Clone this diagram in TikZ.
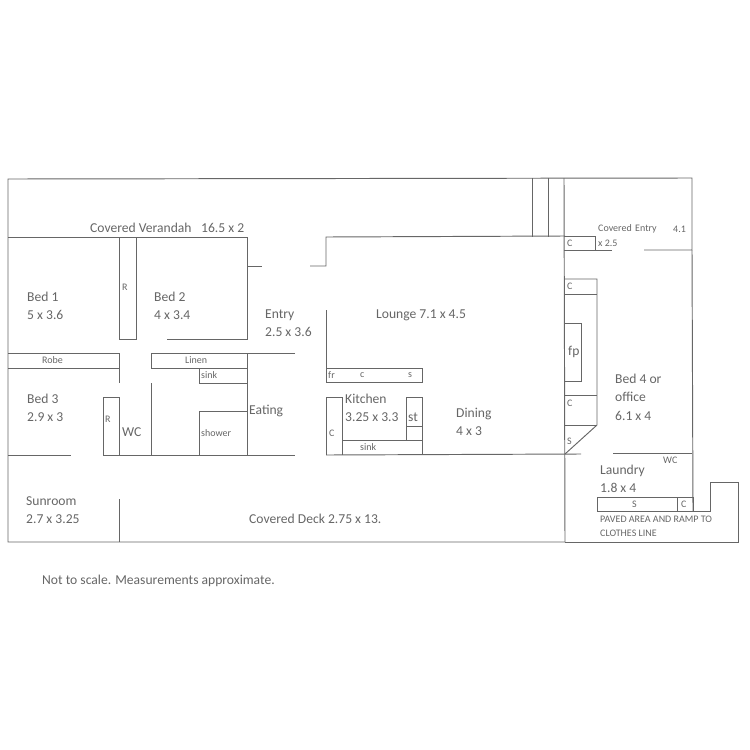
\documentclass[tikz,border=0pt]{standalone}
\usepackage{fontspec}
\setmainfont{Carlito}
\definecolor{planink}{HTML}{666666}
\tikzset{
    wall/.style={draw=planink, line width=0.95pt, line join=miter},
    room/.style={anchor=west, inner sep=0pt, align=left, text=planink, font=\fontsize{13.6}{18.5}\selectfont},
    fitting/.style={anchor=west, inner sep=0pt, align=left, text=planink, font=\fontsize{10}{14}\selectfont}
}
\begin{document}
\begin{tikzpicture}[x=1pt, y=-1pt]
        \useasboundingbox (0,0) rectangle (750,750);

        \draw[wall] (565,542) -- (8,542) -- (8,179) -- (692,178) -- (692,250) -- (644,250);
        \draw[wall] (565,542) -- (738,542) -- (738,482) -- (710,482) -- (710,511) -- (693,511);
        \draw[wall] (692,250) -- (693,511);

        \draw[wall] (8,237) -- (247,237) -- (247,339) -- (167,339);
        \draw[wall] (247,266) -- (262,266);
        \draw[wall] (310,266) -- (326,266) -- (326,237) -- (565,236);
        \draw[wall] (532,178) -- (532,237);
        \draw[wall] (548,178) -- (548,237);
        \draw[wall] (564,178) -- (565,542);
        \draw[wall] (119,237) -- (119,339) -- (136,339) -- (136,237);

        \draw[wall] (564,236) -- (595,236) -- (595,250) -- (564,250);
        \draw[wall] (595,250) -- (612,250);

        \draw[wall] (564,279) -- (597,279) -- (597,425) -- (565,454);
        \draw[wall] (564,294) -- (597,294);
        \draw[wall] (565,323) -- (581,323) -- (581,381) -- (565,381);
        \draw[wall] (565,395) -- (597,395);
        \draw[wall] (565,425) -- (597,425);
        \draw[wall] (613,453) -- (692,453);

        \draw[wall] (8,353) -- (119,353) -- (119,383);
        \draw[wall] (8,368) -- (119,368);
        \draw[wall] (295,353) -- (151,353) -- (151,368) -- (247,368);
        \draw[wall] (199,368) -- (199,383) -- (247,383);
        \draw[wall] (247,353) -- (247,455);
        \draw[wall] (151,383) -- (151,455);
        \draw[wall] (199,455) -- (199,411) -- (247,411);
        \draw[wall] (103,455) -- (103,397) -- (119,397) -- (119,455);
        \draw[wall] (8,455) -- (71,455);
        \draw[wall] (103,455) -- (295,455);
        \draw[wall] (119,499) -- (119,542);

        \draw[wall] (326,310) -- (326,382) -- (422,382) -- (422,368) -- (326,368);
        \draw[wall] (326,455) -- (326,397) -- (342,397) -- (342,455);
        \draw[wall] (326,455) -- (581,454);
        \draw[wall] (342,440) -- (422,440);
        \draw[wall] (406,440) -- (406,397) -- (422,397) -- (422,455);
        \draw[wall] (406,426) -- (422,426);

        \draw[wall] (597,497) rectangle (693,511);
        \draw[wall] (677,497) -- (677,511);

        \node[room] (verandah) at (90,228) {Covered Verandah\hspace{0.7em}16.5 x 2};
        \node[room] (bed1) at (27,306) {Bed 1\\5 x 3.6};
        \node[room] (bed2) at (154,306) {Bed 2\\4 x 3.4};
        \node[room] (entry) at (265,323) {Entry\\2.5 x 3.6};
        \node[room] (lounge) at (376,315) {Lounge 7.1 x 4.5};
        \node[room] (bed3) at (27,408) {Bed 3\\2.9 x 3};
        \node[room] (wc) at (122,432) {WC};
        \node[room] (eating) at (249,411) {Eating};
        \node[room] (sunroom) at (26,510) {Sunroom\\2.7 x 3.25};
        \node[room] (deck) at (249,519) {Covered Deck 2.75 x 13.};
        \node[room] (kitchen) at (345,408) {Kitchen\\3.25 x 3.3};
        \node[room] (st) at (408,417) {st};
        \node[room] (dining) at (456,422) {Dining\\4 x 3};
        \node[room] (fp) at (568,352) {fp};
        \node[room] (bed4) at (615,397) {Bed 4 or\\office\\6.1 x 4};
        \node[room] (laundry) at (600,479) {Laundry\\1.8 x 4};
        \node[room] (note) at (42,581) {Not to scale. Measurements approximate.};

        \node[fitting] (coventry) at (598,229) {Covered\hspace{0.35em}Entry};
        \node[fitting] (coventrya) at (673,229) {4.1};
        \node[fitting] (coventryb) at (598,243) {x 2.5};
        \node[fitting] (c1) at (567,243) {C};
        \node[fitting] (c2) at (567,286) {C};
        \node[fitting] (c3) at (567,403) {C};
        \node[fitting] (s1) at (567,441) {S};
        \node[fitting] (r1) at (122,287) {R};
        \node[fitting] (r2) at (105,419) {R};
        \node[fitting] (robe) at (42,360) {Robe};
        \node[fitting] (linen) at (185,360) {Linen};
        \node[fitting] (sink1) at (201,375) {sink};
        \node[fitting] (shower) at (201,433) {shower};
        \node[fitting] (fr) at (328,375) {fr};
        \node[fitting] (c4) at (360,375) {c};
        \node[fitting] (s2) at (408,375) {s};
        \node[fitting] (c5) at (329,433) {C};
        \node[fitting] (sink2) at (360,447) {sink};
        \node[fitting] (wc2) at (663,460) {WC};
        \node[fitting] (s3) at (632,504) {S};
        \node[fitting] (c6) at (681,504) {C};
        \node[fitting] (paved) at (600,526) {PAVED AREA AND RAMP TO\\CLOTHES LINE};
    \end{tikzpicture}
\end{document}
